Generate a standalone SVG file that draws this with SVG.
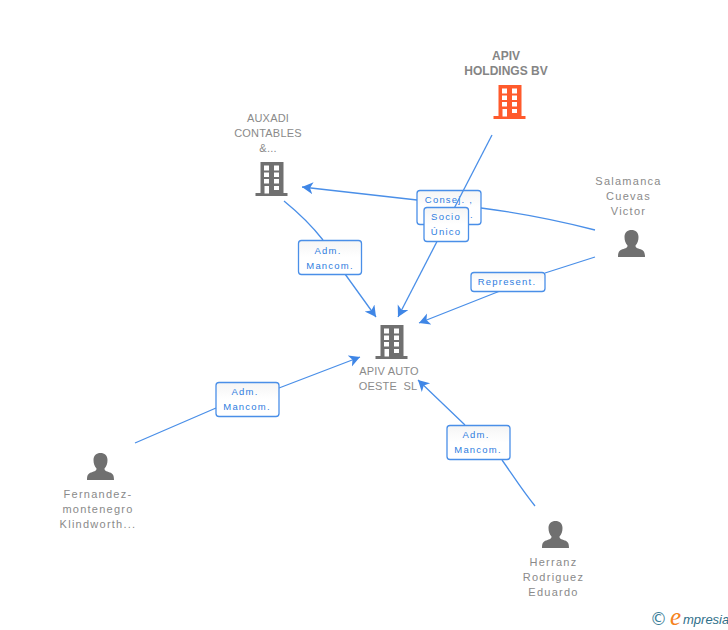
<svg xmlns="http://www.w3.org/2000/svg" width="728" height="630" viewBox="0 0 728 630">
<style>
text{font-family:"Liberation Sans",Arial,sans-serif}
.n{font-size:11px;fill:#8a8a8a;letter-spacing:1.25px;text-anchor:middle}
.u{font-size:11px;fill:#8a8a8a;letter-spacing:0.2px;text-anchor:middle}
.nb{font-size:12px;font-weight:bold;fill:#858585;text-anchor:middle}
.l{font-size:9.5px;fill:#2f7de0;letter-spacing:1.2px;text-anchor:middle}
.c{fill:none;stroke:#4a8fe8;stroke-width:1.3}
.b{fill:url(#g);stroke:#4a8fe8;stroke-width:1.3}
</style>
<defs>
<linearGradient id="g" x1="0" y1="0" x2="0" y2="1"><stop offset="0" stop-color="#f5f5f5"/><stop offset="0.5" stop-color="#fff"/></linearGradient>
<marker id="a" markerUnits="userSpaceOnUse" markerWidth="14" markerHeight="14" refX="11" refY="6" orient="auto"><path d="M0 0L11 6L0 12L3 6Z" fill="#3f86e6"/></marker>
<symbol id="bld" overflow="visible"><path fill-rule="evenodd" d="M5 0H28V31H32V34H0V31H5ZM8.500 3.500V8.500H13.500V3.500ZM18.500 3.500V8.500H23.500V3.500ZM8.500 10.500V15H13.500V10.500ZM18.500 10.500V15H23.500V10.500ZM8.500 17V21.500H13.500V17ZM18.500 17V21.500H23.500V17ZM9 24V31.500H13.500V24ZM18.500 24V28H23.500V24Z"/></symbol>
<symbol id="per" overflow="visible"><path d="M0 27C0 21 2 20 5.500 19C9 18 9.500 17 9.500 15.500C7.500 13.500 6.500 10.500 6.500 7C6.500 2.500 9.500 0 13.500 0C17.500 0 20.500 2.500 20.500 7C20.500 10.500 19.500 13.500 17.500 15.500C17.500 17 18 18 21.500 19C25 20 27 21 27 27Z"/></symbol>
</defs>
<g id="edge-consej"><rect class="b" x="417" y="190.500" width="64" height="34" rx="3"/><text class="l" x="449" y="203">Consej. ,</text><text class="l" x="472" y="218">.</text></g>
<g id="connectors">
<path class="c" d="M595 230C560 221 520 213 481 208"/>
<path class="c" d="M417 200L302 187" marker-end="url(#a)"/>
<path class="c" d="M492 135L398 317" marker-end="url(#a)"/>
<path class="c" d="M284 201C300 214 312 226 323 240M345 274L376 317" marker-end="url(#a)"/>
<path class="c" d="M595 257L545 273M500 291L419 323" marker-end="url(#a)"/>
<path class="c" d="M135 443L216 408M279 388L360 357" marker-end="url(#a)"/>
<path class="c" d="M535 506C522 490 512 474 502 460M465 425L418 380" marker-end="url(#a)"/>
</g>
<g id="edge-socio"><rect class="b" x="424" y="207.500" width="44.500" height="34" rx="3"/><text class="l" x="446" y="220">Socio</text><text class="l" x="446" y="235">Único</text></g>
<g id="edge-adm1"><rect class="b" x="298.500" y="240.500" width="63" height="34" rx="3"/><text class="l" x="328" y="254">Adm.</text><text class="l" x="330" y="269">Mancom.</text></g>
<g id="edge-rep"><rect class="b" x="471" y="272.500" width="74" height="19" rx="3"/><text class="l" x="507" y="285">Represent.</text></g>
<g id="edge-adm2"><rect class="b" x="216" y="382.500" width="63" height="34" rx="3"/><text class="l" x="245" y="395">Adm.</text><text class="l" x="247" y="410">Mancom.</text></g>
<g id="edge-adm3"><rect class="b" x="447" y="425.500" width="63" height="34" rx="3"/><text class="l" x="476" y="438">Adm.</text><text class="l" x="478" y="453">Mancom.</text></g>
<g id="apiv-holdings"><text class="nb" x="506" y="60">APIV</text><text class="nb" x="506" y="75">HOLDINGS BV</text><use href="#bld" x="493.500" y="85" fill="#ff5a2c"/></g>
<g id="auxadi"><text class="u" x="268" y="122">AUXADI</text><text class="u" x="268" y="137">CONTABLES</text><text class="u" x="268" y="152">&amp;...</text><use href="#bld" x="255.500" y="162" fill="#707070"/></g>
<g id="apiv-auto"><use href="#bld" x="375.500" y="325" fill="#707070"/><text class="u" x="389" y="375">APIV AUTO</text><text class="u" x="388" y="390" xml:space="preserve">OESTE  SL</text></g>
<g id="salamanca"><text class="n" x="628.500" y="185">Salamanca</text><text class="n" x="628.500" y="200">Cuevas</text><text class="n" x="628.500" y="215">Victor</text><use href="#per" x="618" y="230" fill="#707070"/></g>
<g id="fernandez"><use href="#per" x="87" y="453" fill="#707070"/><text class="n" x="98" y="498">Fernandez-</text><text class="n" x="98" y="513">montenegro</text><text class="n" x="98" y="528">Klindworth...</text></g>
<g id="herranz"><use href="#per" x="542" y="521" fill="#707070"/><text class="n" x="553.500" y="566">Herranz</text><text class="n" x="553.500" y="581">Rodriguez</text><text class="n" x="553.500" y="596">Eduardo</text></g>
<g id="logo"><text x="650" y="625" font-size="17" fill="#3d7f9a" style="font-family:'DejaVu Sans',sans-serif">©</text><text x="670" y="625" font-size="25" font-style="italic" fill="#f58220" style="font-family:'Liberation Serif',serif">e</text><text x="683" y="624" font-size="13" font-style="italic" fill="#2f6f8a" style="font-family:'Liberation Sans',sans-serif">mpresia</text></g>
</svg>
